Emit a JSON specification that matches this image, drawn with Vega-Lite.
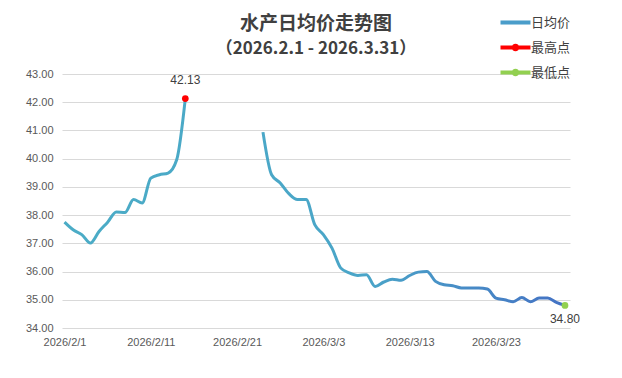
{
  "$schema": "https://vega.github.io/schema/vega-lite/v6.json",
  "width": 508,
  "height": 254,
  "autosize": "none",
  "padding": {"left": 62, "top": 74, "right": 52, "bottom": 50},
  "background": "white",
  "title": {
    "text": "水产日均价走势图",
    "subtitle": "（2026.2.1 - 2026.3.31）",
    "font": "Noto Sans CJK SC",
    "fontSize": 19,
    "fontWeight": "bold",
    "color": "#404040",
    "subtitleFont": "Noto Sans CJK SC",
    "subtitleFontSize": 17,
    "subtitleFontWeight": "bold",
    "subtitleColor": "#404040",
    "subtitlePadding": 7,
    "anchor": "middle",
    "offset": -42
  },
  "datasets": {
    "daily": [
      {"date": "2026/02/01", "value": 37.75},
      {"date": "2026/02/02", "value": 37.48},
      {"date": "2026/02/03", "value": 37.31},
      {"date": "2026/02/04", "value": 37.01},
      {"date": "2026/02/05", "value": 37.42},
      {"date": "2026/02/06", "value": 37.75},
      {"date": "2026/02/07", "value": 38.11},
      {"date": "2026/02/08", "value": 38.09},
      {"date": "2026/02/09", "value": 38.55},
      {"date": "2026/02/10", "value": 38.43},
      {"date": "2026/02/11", "value": 39.31},
      {"date": "2026/02/12", "value": 39.43},
      {"date": "2026/02/13", "value": 39.49},
      {"date": "2026/02/14", "value": 39.96},
      {"date": "2026/02/15", "value": 42.13},
      {"date": "2026/02/16", "value": null},
      {"date": "2026/02/17", "value": null},
      {"date": "2026/02/18", "value": null},
      {"date": "2026/02/19", "value": null},
      {"date": "2026/02/20", "value": null},
      {"date": "2026/02/21", "value": null},
      {"date": "2026/02/22", "value": null},
      {"date": "2026/02/23", "value": null},
      {"date": "2026/02/24", "value": 40.94},
      {"date": "2026/02/25", "value": 39.43},
      {"date": "2026/02/26", "value": 39.14},
      {"date": "2026/02/27", "value": 38.76},
      {"date": "2026/02/28", "value": 38.55},
      {"date": "2026/03/01", "value": 38.55},
      {"date": "2026/03/02", "value": 37.66},
      {"date": "2026/03/03", "value": 37.31},
      {"date": "2026/03/04", "value": 36.83},
      {"date": "2026/03/05", "value": 36.13},
      {"date": "2026/03/06", "value": 35.95},
      {"date": "2026/03/07", "value": 35.86},
      {"date": "2026/03/08", "value": 35.89},
      {"date": "2026/03/09", "value": 35.47},
      {"date": "2026/03/10", "value": 35.63},
      {"date": "2026/03/11", "value": 35.73},
      {"date": "2026/03/12", "value": 35.69},
      {"date": "2026/03/13", "value": 35.86},
      {"date": "2026/03/14", "value": 35.98},
      {"date": "2026/03/15", "value": 36.0},
      {"date": "2026/03/16", "value": 35.65},
      {"date": "2026/03/17", "value": 35.53},
      {"date": "2026/03/18", "value": 35.5},
      {"date": "2026/03/19", "value": 35.42},
      {"date": "2026/03/20", "value": 35.42},
      {"date": "2026/03/21", "value": 35.42},
      {"date": "2026/03/22", "value": 35.38},
      {"date": "2026/03/23", "value": 35.06},
      {"date": "2026/03/24", "value": 35.0},
      {"date": "2026/03/25", "value": 34.93},
      {"date": "2026/03/26", "value": 35.08},
      {"date": "2026/03/27", "value": 34.93},
      {"date": "2026/03/28", "value": 35.06},
      {"date": "2026/03/29", "value": 35.06},
      {"date": "2026/03/30", "value": 34.91},
      {"date": "2026/03/31", "value": 34.8}
    ],
    "extremes": [
      {"date": "2026/02/15", "value": 42.13, "type": "最高点"},
      {"date": "2026/03/31", "value": 34.8, "type": "最低点"}
    ]
  },
  "encoding": {
    "x": {
      "field": "date",
      "type": "temporal",
      "title": null,
      "scale": {
        "domain": [
          {"year": 2026, "month": 1, "date": 31, "hours": 17},
          {"year": 2026, "month": 3, "date": 31, "hours": 14}
        ]
      },
      "axis": {
        "values": [
          {"year": 2026, "month": 2, "date": 1},
          {"year": 2026, "month": 2, "date": 11},
          {"year": 2026, "month": 2, "date": 21},
          {"year": 2026, "month": 3, "date": 3},
          {"year": 2026, "month": 3, "date": 13},
          {"year": 2026, "month": 3, "date": 23}
        ],
        "format": "%Y/%-m/%-d",
        "grid": false,
        "domain": false,
        "ticks": false,
        "labelPadding": 8,
        "labelFlush": false,
        "labelOverlap": false
      }
    },
    "y": {
      "field": "value",
      "type": "quantitative",
      "title": null,
      "scale": {"domain": [34, 43], "nice": false, "zero": false},
      "axis": {
        "values": [34, 35, 36, 37, 38, 39, 40, 41, 42, 43],
        "format": ".2f",
        "domain": false,
        "ticks": false,
        "labelPadding": 9,
        "gridColor": "#D9D9D9",
        "gridWidth": 1
      }
    }
  },
  "layer": [
    {
      "data": {"name": "daily"},
      "mark": {
        "type": "line",
        "interpolate": "monotone",
        "strokeWidth": 3,
        "invalid": "break-paths-show-domains",
        "color": {
          "gradient": "linear",
          "x1": 0, "y1": 0, "x2": 1, "y2": 0,
          "stops": [
            {"offset": 0, "color": "#4BACC6"},
            {"offset": 0.6, "color": "#4AA5C8"},
            {"offset": 1, "color": "#4472C4"}
          ]
        }
      }
    },
    {
      "data": {"name": "extremes"},
      "mark": {"type": "point", "filled": true, "size": 225, "opacity": 0, "strokeWidth": 0},
      "encoding": {
        "color": {
          "field": "type",
          "type": "nominal",
          "scale": {
            "domain": ["日均价", "最高点", "最低点"],
            "range": ["#4A9DCA", "#FF0000", "#92D050"]
          }
        },
        "shape": {
          "field": "type",
          "type": "nominal",
          "scale": {
            "domain": ["日均价", "最高点", "最低点"],
            "range": [
              "M-2,-0.27H2V0.27H-2Z",
              "M-2,-0.27H2V0.27H-2Z M0.5,0A0.5,0.5 0 1,1 -0.5,0A0.5,0.5 0 1,1 0.5,0Z",
              "M-2,-0.27H2V0.27H-2Z M0.5,0A0.5,0.5 0 1,1 -0.5,0A0.5,0.5 0 1,1 0.5,0Z"
            ]
          }
        }
      }
    },
    {
      "data": {"name": "extremes"},
      "mark": {"type": "point", "filled": true, "size": 45, "opacity": 1, "strokeWidth": 0, "shape": "circle"},
      "encoding": {
        "color": {"field": "type", "type": "nominal"}
      }
    },
    {
      "data": {"name": "extremes"},
      "transform": [{"filter": "datum.type === '最高点'"}],
      "mark": {"type": "text", "dy": -19, "font": "Liberation Sans", "fontSize": 12, "color": "#404040"},
      "encoding": {"text": {"field": "value", "type": "quantitative", "format": ".2f"}}
    },
    {
      "data": {"name": "extremes"},
      "transform": [{"filter": "datum.type === '最低点'"}],
      "mark": {"type": "text", "dy": 14, "font": "Liberation Sans", "fontSize": 12, "color": "#404040"},
      "encoding": {"text": {"field": "value", "type": "quantitative", "format": ".2f"}}
    }
  ],
  "config": {
    "view": {"stroke": null},
    "axis": {
      "labelFont": "Liberation Sans",
      "labelFontSize": 11,
      "labelColor": "#595959"
    },
    "legend": {
      "title": null,
      "orient": "none",
      "legendX": 446,
      "legendY": -59,
      "padding": 0,
      "symbolSize": 225,
      "symbolStrokeWidth": 0,
      "symbolOpacity": 1,
      "labelOffset": 8,
      "rowPadding": 10,
      "labelFont": "Noto Sans CJK SC",
      "labelFontSize": 13,
      "labelColor": "#404040"
    }
  }
}
